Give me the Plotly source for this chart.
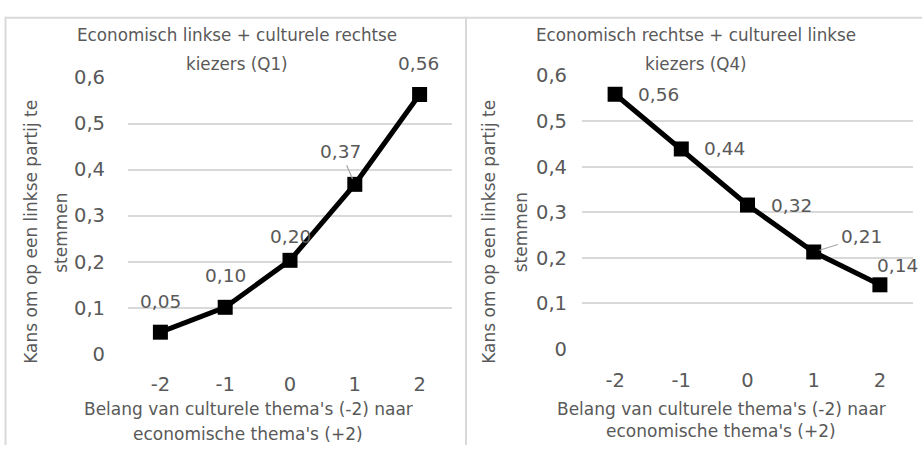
import plotly.graph_objects as go

W, H = 922, 457

categories = [-2, -1, 0, 1, 2]
tick_labels = ["-2", "-1", "0", "1", "2"]
q1_values = [0.047, 0.101, 0.203, 0.368, 0.563]
q4_values = [0.559, 0.439, 0.316, 0.213, 0.141]
y_ticks = [0, 0.1, 0.2, 0.3, 0.4, 0.5, 0.6]

title_q1 = ["Economisch linkse + culturele rechtse", "kiezers (Q1)"]
title_q4 = ["Economisch rechtse + cultureel linkse", "kiezers (Q4)"]
x_title = ["Belang van culturele thema's (-2) naar", "economische thema's (+2)"]
y_title = ["Kans om op een linkse partij te", "stemmen"]

FONT = "DejaVu Sans"
TXT = "#595959"
GRID = "#D9D9D9"


def px(x):
    return x / W


def py(y):
    return 1 - y / H


fig = go.Figure()

panels = [
    dict(vals=q1_values, xa="x", ya="y", xdom=(128, 452), ydom=(361, 70),
         offsets=[(0, 31, False), (0, 32, False), (0, 24, False), (-14, 33, True), (-1, 31, False)],
         title=title_q1, tcx=237, tys=(25, 56), xtcx=248, xtys=(419, 445),
         ytxs=(31.5, 61.5), standoff=22),
    dict(vals=q4_values, xa="x2", ya="y2", xdom=(582, 913), ydom=(356, 68),
         offsets=[(43, 0, False), (43, 0, False), (44, 0, False), (48, 15, True), (18, 19, False)],
         title=title_q4, tcx=696, tys=(25, 56), xtcx=721, xtys=(419, 442),
         ytxs=(489.5, 521), standoff=14),
]

annotations = []
for i, p in enumerate(panels):
    fig.add_trace(go.Scatter(
        x=categories, y=p["vals"], xaxis=p["xa"], yaxis=p["ya"],
        mode="lines+markers",
        line=dict(color="black", width=5),
        marker=dict(symbol="square", size=15, color="black"),
        showlegend=False, hoverinfo="skip", cliponaxis=False,
    ))
    for c, v, (dx, dy, lead) in zip(categories, p["vals"], p["offsets"]):
        label = f"{v:.2f}".replace(".", ",")
        a = dict(x=c, y=v, xref=p["xa"], yref=p["ya"], text=label,
                 font=dict(family=FONT, size=18.5, color=TXT))
        if lead:
            a.update(showarrow=True, ax=dx, ay=-dy, arrowhead=0, arrowwidth=1.2,
                     arrowcolor="#A6A6A6", standoff=6, startstandoff=2)
        else:
            a.update(showarrow=False, xshift=dx, yshift=dy)
        annotations.append(a)
    for t, ty in zip(p["title"], p["tys"]):
        annotations.append(dict(x=px(p["tcx"]), y=py(ty), xref="paper", yref="paper",
                                text=t, showarrow=False, xanchor="center", yanchor="middle",
                                font=dict(family=FONT, size=16.75, color=TXT)))
    for t, ty in zip(x_title, p["xtys"]):
        annotations.append(dict(x=px(p["xtcx"]), y=py(ty), xref="paper", yref="paper",
                                text=t, showarrow=False, xanchor="center", yanchor="middle",
                                font=dict(family=FONT, size=17, color=TXT)))
    for t, tx in zip(y_title, p["ytxs"]):
        annotations.append(dict(x=px(tx), y=py(233), xref="paper", yref="paper",
                                text=t, showarrow=False, xanchor="center", yanchor="middle",
                                textangle=-90,
                                font=dict(family=FONT, size=17, color=TXT)))

common_x = dict(range=[-2.5, 2.5], tickvals=categories, ticktext=tick_labels,
                showgrid=False, zeroline=False, showline=False, ticks="",
                tickfont=dict(family=FONT, size=19.5, color=TXT), fixedrange=True)
common_y = dict(range=[0, 0.6], tickvals=y_ticks, showgrid=True, gridcolor=GRID,
                gridwidth=1.5, zeroline=False, showline=False, ticks="",
                tickfont=dict(family=FONT, size=19.5, color=TXT), fixedrange=True)

p1, p2 = panels
fig.update_layout(
    width=W, height=H, autosize=False, margin=dict(l=0, r=0, t=0, b=0, pad=0),
    paper_bgcolor="white", plot_bgcolor="white",
    separators=", ",
    xaxis=dict(common_x, domain=[px(p1["xdom"][0]), px(p1["xdom"][1])], anchor="y",
               ticklabelstandoff=17),
    yaxis=dict(common_y, domain=[py(p1["ydom"][0]), py(p1["ydom"][1])], anchor="x",
               ticklabelstandoff=p1["standoff"]),
    xaxis2=dict(common_x, domain=[px(p2["xdom"][0]), px(p2["xdom"][1])], anchor="y2",
                ticklabelstandoff=17),
    yaxis2=dict(common_y, domain=[py(p2["ydom"][0]), py(p2["ydom"][1])], anchor="x2",
                ticklabelstandoff=p2["standoff"]),
    annotations=annotations,
    shapes=[
        dict(type="line", xref="paper", yref="paper", x0=px(5), x1=1, y0=py(7), y1=py(7),
             line=dict(color=GRID, width=2)),
        dict(type="line", xref="paper", yref="paper", x0=px(5.5), x1=px(5.5), y0=py(6), y1=0,
             line=dict(color=GRID, width=2)),
        dict(type="line", xref="paper", yref="paper", x0=px(466), x1=px(466), y0=py(6), y1=0,
             line=dict(color=GRID, width=2)),
    ],
)

fig.write_html(
    "out.html",
    config={"responsive": False, "displayModeBar": False},
    post_script="document.body.style.margin='0px';document.body.style.overflow='hidden';",
)
